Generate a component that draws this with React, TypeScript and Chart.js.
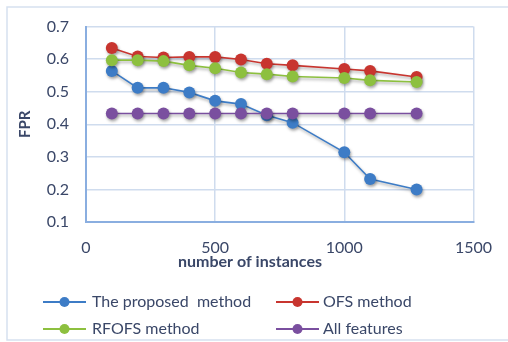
import React, { useEffect, useRef } from "react";
import { Chart, registerables } from "chart.js";

Chart.register(...registerables);

// Number of training instances at which each method was evaluated
const instances = [100, 200, 300, 400, 500, 600, 700, 800, 1000, 1100, 1280];

// False positive rate per method
const proposedFpr = [0.564, 0.512, 0.512, 0.498, 0.472, 0.462, 0.428, 0.405, 0.314, 0.232, 0.2];
const ofsFpr = [0.634, 0.608, 0.605, 0.607, 0.607, 0.599, 0.586, 0.581, 0.57, 0.564, 0.545];
const rfofsFpr = [0.597, 0.597, 0.594, 0.581, 0.572, 0.559, 0.554, 0.547, 0.542, 0.535, 0.53];
const allFeaturesFpr = [0.433, 0.433, 0.433, 0.433, 0.433, 0.433, 0.433, 0.433, 0.433, 0.433, 0.433];

const seriesNames = ["The proposed  method", "OFS method", "RFOFS method", "All features"];
const seriesColors = ["#3d7cc6", "#c8352f", "#8dc03f", "#7a4f9f"];

const xTitle = "number of instances";
const yTitle = "FPR";

const xTicks = { min: 0, max: 1500, step: 500 };
const yTicks = { min: 0.1, max: 0.7, step: 0.1 };

const FONT = "Lato, 'Liberation Sans', sans-serif";
const TEXT = "#3a4768";

const toPoints = (ys: number[]) => instances.map((x, i) => ({ x, y: ys[i] }));

// Frame around the whole figure
const framePlugin = {
  id: "frame",
  beforeDraw(chart: any) {
    const { ctx } = chart;
    ctx.save();
    ctx.fillStyle = "#ffffff";
    ctx.fillRect(0, 0, chart.width, chart.height);
    ctx.strokeStyle = "#d6e1ef";
    ctx.lineWidth = 1.5;
    ctx.strokeRect(7, 7, chart.width + 10, 333);
    ctx.restore();
  },
};

// Soft drop shadow under the lines and markers
const shadowPlugin = {
  id: "markerShadow",
  beforeDatasetDraw(chart: any) {
    const { ctx } = chart;
    ctx.save();
    ctx.shadowColor = "rgba(0,0,0,0.35)";
    ctx.shadowBlur = 3;
    ctx.shadowOffsetX = 1;
    ctx.shadowOffsetY = 2;
  },
  afterDatasetDraw(chart: any) {
    chart.ctx.restore();
  },
};

// X axis title (centred on the figure) and two-column legend below it
const gridLegendPlugin = {
  id: "gridLegend",
  afterDraw(chart: any) {
    const { ctx } = chart;
    ctx.save();
    ctx.fillStyle = TEXT;
    ctx.font = `bold 16px ${FONT}`;
    ctx.textAlign = "center";
    ctx.textBaseline = "middle";
    ctx.fillText(xTitle, 250, 262);

    const cols = [{ line: 43, text: 92 }, { line: 276, text: 323 }];
    const rows = [302, 329];
    chart.data.datasets.forEach((ds: any, i: number) => {
      const c = cols[i % 2];
      const y = rows[Math.floor(i / 2)];
      ctx.strokeStyle = ds.borderColor;
      ctx.lineWidth = 2;
      ctx.beginPath();
      ctx.moveTo(c.line, y);
      ctx.lineTo(c.line + 43, y);
      ctx.stroke();
      ctx.fillStyle = ds.backgroundColor;
      ctx.beginPath();
      ctx.arc(c.line + 21.5, y, 5, 0, Math.PI * 2);
      ctx.fill();
      ctx.fillStyle = TEXT;
      ctx.font = `16px ${FONT}`;
      ctx.textBaseline = "middle";
      ctx.textAlign = "left";
      ctx.fillText(ds.label, c.text, y);
    });
    ctx.restore();
  },
};

export default function App() {
  const canvasRef = useRef<HTMLCanvasElement | null>(null);

  useEffect(() => {
    const canvas = canvasRef.current;
    if (!canvas) return;
    const series = [proposedFpr, ofsFpr, rfofsFpr, allFeaturesFpr];
    const chart = new Chart(canvas, {
      type: "line",
      data: {
        datasets: series.map((ys, i) => ({
          label: seriesNames[i],
          data: toPoints(ys),
          borderColor: seriesColors[i],
          backgroundColor: seriesColors[i],
          pointBackgroundColor: seriesColors[i],
          pointBorderColor: seriesColors[i],
          pointRadius: 6,
          pointBorderWidth: 0,
          borderWidth: 1.6,
          tension: 0,
          order: series.length - 1 - i,
        })),
      },
      options: {
        animation: false,
        responsive: false,
        devicePixelRatio: 1,
        layout: { padding: { top: 20, right: 31, left: 0, bottom: 70 } },
        plugins: {
          legend: { display: false },
          tooltip: { enabled: false },
        },
        scales: {
          x: {
            type: "linear",
            min: xTicks.min,
            max: xTicks.max,
            afterFit: (s: any) => {
              s.height = 50;
            },
            ticks: {
              stepSize: xTicks.step,
              padding: 16,
              color: TEXT,
              font: { family: FONT, size: 16 },
              maxRotation: 0,
              callback: (v: any) => String(v),
            },
            grid: { color: "#cfdcee", lineWidth: 1.5, drawTicks: false },
            border: { color: "#8aaee0", width: 2 },
          },
          y: {
            min: yTicks.min,
            max: yTicks.max,
            afterFit: (s: any) => {
              s.width = 86;
            },
            ticks: {
              stepSize: yTicks.step,
              padding: 17,
              color: TEXT,
              font: { family: FONT, size: 16 },
              callback: (v: any) => Number(v).toFixed(1),
            },
            grid: { color: "#cfdcee", lineWidth: 1.5, drawTicks: false },
            border: { color: "#8aaee0", width: 2 },
            title: {
              display: true,
              text: yTitle,
              color: TEXT,
              font: { family: FONT, size: 15, weight: "bold" },
              padding: { top: 16, bottom: 0 },
            },
          },
        },
      },
      plugins: [framePlugin, shadowPlugin, gridLegendPlugin],
    });
    return () => chart.destroy();
  }, []);

  return (
    <div style={{ position: "fixed", left: 0, top: 0, width: 508, height: 342 }}>
      <canvas ref={canvasRef} width={508} height={342} style={{ display: "block" }} />
    </div>
  );
}
